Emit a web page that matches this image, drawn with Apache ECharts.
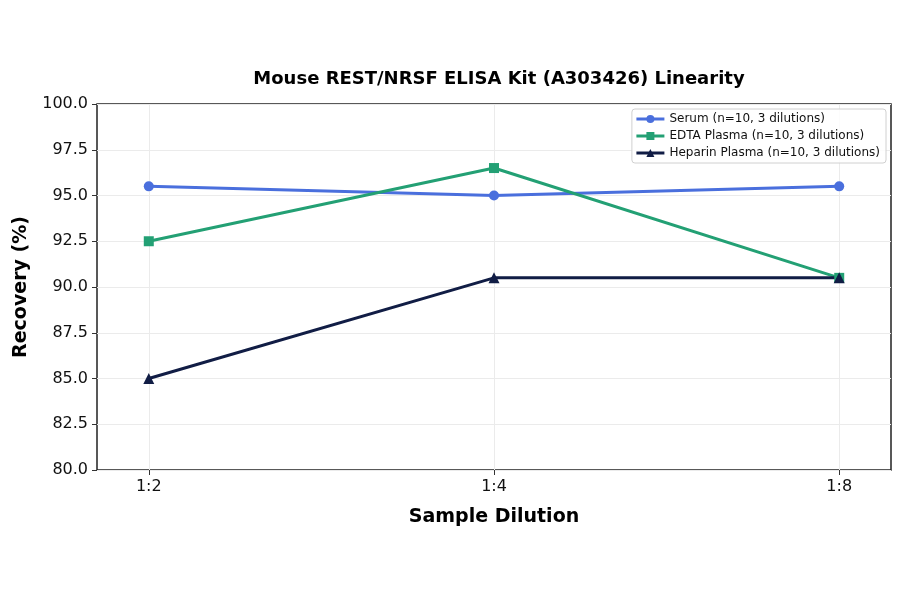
<!DOCTYPE html>
<html>
<head>
<meta charset="utf-8">
<script src="https://cdn.jsdelivr.net/npm/echarts@6/dist/echarts.min.js"></script>
<style>
  html, body { margin: 0; padding: 0; background: #fff; }
  #chart { width: 900px; height: 594px; }
</style>
</head>
<body>
<div id="chart"></div>
<script>
// 数据
const dilutions = ['1:2', '1:4', '1:8'];
const serum = [95.5, 95.0, 95.5];
const edtaPlasma = [92.5, 96.5, 90.5];
const heparinPlasma = [85.0, 90.5, 90.5];

const FONT = 'DejaVu Sans';

function toPoints(values) {
    return values.map((v, i) => [i, v]);
}

const chart = echarts.init(document.getElementById('chart'));

const option = {
    animation: false,
    backgroundColor: '#fff',
    textStyle: { fontFamily: FONT },
    title: {
        text: 'Mouse REST/NRSF ELISA Kit (A303426) Linearity',
        left: 494, top: 65, textAlign: 'center',
        textStyle: { fontFamily: FONT, fontSize: 18, fontWeight: 'bold', color: '#000' }
    },
    legend: {
        right: 14, top: 109, orient: 'vertical',
        itemWidth: 28, itemHeight: 10, itemGap: 5,
        padding: [4, 6, 4, 3],
        borderColor: '#d0d0d0', borderWidth: 1, borderRadius: 3,
        backgroundColor: 'rgba(255,255,255,0.85)',
        lineStyle: { width: 3 },
        textStyle: { fontFamily: FONT, fontSize: 12, color: '#111' },
        data: ['Serum (n=10, 3 dilutions)', 'EDTA Plasma (n=10, 3 dilutions)', 'Heparin Plasma (n=10, 3 dilutions)']
    },
    grid: {
        left: 97, right: 9, top: 104, bottom: 124,
        show: true, borderColor: '#222', borderWidth: 1.5
    },
    xAxis: {
        type: 'value', min: -0.15, max: 2.15,
        name: 'Sample Dilution', nameLocation: 'middle', nameGap: 38,
        nameTextStyle: { fontFamily: FONT, fontSize: 19, fontWeight: 'bold', color: '#000' },
        axisLine: { show: false, onZero: false },
        axisTick: { show: true, length: 5, customValues: [0, 1, 2], lineStyle: { color: '#333' } },
        axisLabel: {
            fontFamily: FONT, fontSize: 16, color: '#111', margin: 9,
            customValues: [0, 1, 2],
            formatter: v => dilutions[Math.round(v)] || ''
        },
        splitLine: { show: true, lineStyle: { color: '#ebebeb', width: 1 } }
    },
    yAxis: {
        type: 'value', min: 80, max: 100, interval: 2.5,
        name: 'Recovery (%)', nameLocation: 'middle', nameGap: 66, nameRotate: 90,
        nameTextStyle: { fontFamily: FONT, fontSize: 19, fontWeight: 'bold', color: '#000' },
        axisLine: { show: false, onZero: false },
        axisTick: { show: true, length: 5, lineStyle: { color: '#333' } },
        axisLabel: {
            fontFamily: FONT, fontSize: 16, color: '#111', margin: 9,
            formatter: v => v.toFixed(1)
        },
        splitLine: { show: true, lineStyle: { color: '#ebebeb', width: 1 } }
    },
    series: [
        {
            name: 'Serum (n=10, 3 dilutions)', type: 'line', data: toPoints(serum),
            symbol: 'circle', symbolSize: 10,
            lineStyle: { width: 3, color: '#4a6fdd' },
            itemStyle: { color: '#4a6fdd' }
        },
        {
            name: 'EDTA Plasma (n=10, 3 dilutions)', type: 'line', data: toPoints(edtaPlasma),
            symbol: 'rect', symbolSize: 10,
            lineStyle: { width: 3, color: '#23a074' },
            itemStyle: { color: '#23a074' }
        },
        {
            name: 'Heparin Plasma (n=10, 3 dilutions)', type: 'line', data: toPoints(heparinPlasma),
            symbol: 'triangle', symbolSize: 11,
            lineStyle: { width: 3, color: '#111d45' },
            itemStyle: { color: '#111d45' }
        }
    ]
};

chart.setOption(option);
</script>
</body>
</html>
